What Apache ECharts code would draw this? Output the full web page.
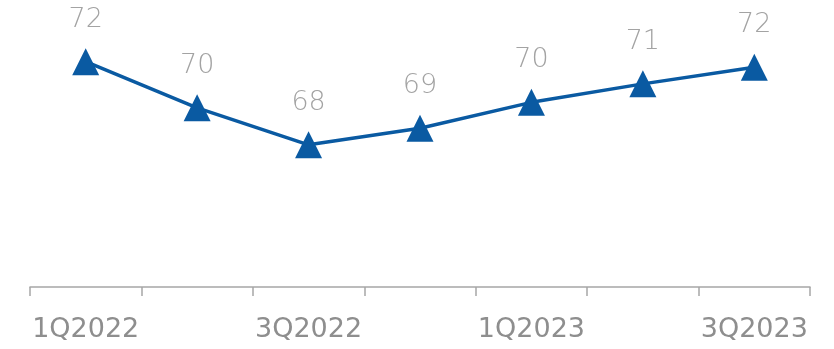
<!DOCTYPE html>
<html>
<head>
<meta charset="utf-8">
<script src="https://cdn.jsdelivr.net/npm/echarts@6/dist/echarts.min.js"></script>
<style>
  html, body { margin: 0; padding: 0; background: #ffffff; }
  #chart { width: 834px; height: 349px; }
</style>
</head>
<body>
<div id="chart"></div>
<script>
// Quarterly index values
const quarters = ['1Q2022', '2Q2022', '3Q2022', '4Q2022', '1Q2023', '2Q2023', '3Q2023'];
const scores = [72.2, 69.7, 67.7, 68.6, 70.0, 71.0, 71.9];

const chart = echarts.init(document.getElementById('chart'));
chart.setOption({
  animation: false,
  grid: { left: 30, right: 24, top: 10, bottom: 62 },
  xAxis: {
    type: 'category',
    data: quarters,
    boundaryGap: true,
    axisLine: { lineStyle: { color: '#a6a6a6', width: 1.5 } },
    axisTick: { show: true, interval: 0, length: 9, lineStyle: { color: '#a6a6a6', width: 1.5 } },
    axisLabel: {
      interval: 1,
      margin: 29,
      color: '#8e8e8e',
      fontFamily: 'DejaVu Sans',
      fontSize: 27
    }
  },
  yAxis: {
    type: 'value',
    min: 60,
    max: 75,
    show: false,
    splitLine: { show: false }
  },
  series: [{
    type: 'line',
    data: scores,
    symbol: 'triangle',
    symbolSize: 27,
    lineStyle: { color: '#0a5aa2', width: 3.5 },
    itemStyle: { color: '#0a5aa2' },
    label: {
      show: true,
      position: 'top',
      distance: 15,
      color: '#a3a3a3',
      fontFamily: 'DejaVu Sans',
      fontWeight: 200,
      fontSize: 27,
      formatter: p => Math.round(p.value)
    }
  }]
});
</script>
</body>
</html>
